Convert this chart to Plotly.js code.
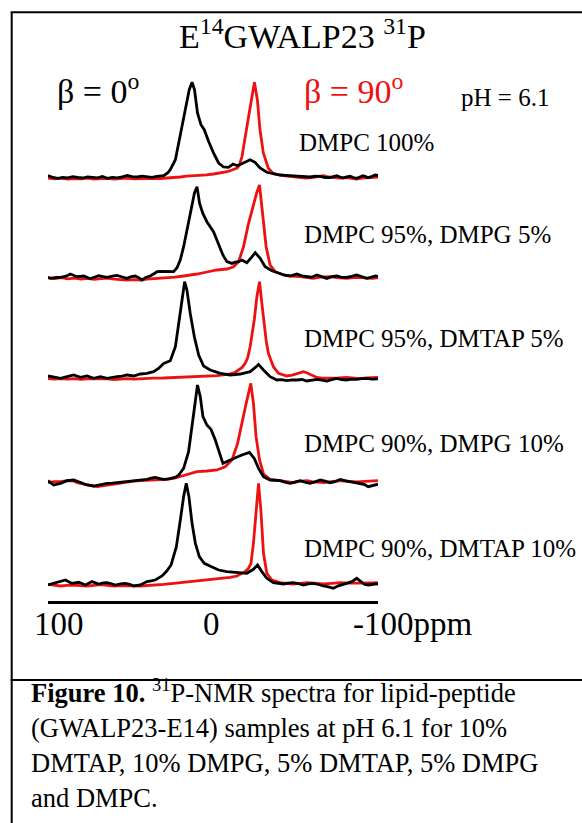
<!DOCTYPE html>
<html>
<head>
<meta charset="utf-8">
<script src="https://cdn.plot.ly/plotly-3.0.1.min.js"></script>
<style>
  html, body { margin: 0; padding: 0; background: #ffffff; }
  #chart { width: 582px; height: 823px; }
</style>
</head>
<body>
<div id="chart"></div>
<script>
// ---------------- DATA ----------------
// chemical shift axis ticks (ppm) and their labels
const ppmTicks = [100, 0, -100];
const ppmTickText = ['100', '0', '-100ppm'];

// sample names, top to bottom
const sampleLabels = ['DMPC 100%', 'DMPC 95%, DMPG 5%', 'DMPC 95%, DMTAP 5%', 'DMPC 90%, DMPG 10%', 'DMPC 90%, DMTAP 10%'];
const betaLabels = ['\u03b2 = 0<sup>o</sup>', '\u03b2 = 90<sup>o</sup>'];
const phLabel = 'pH = 6.1';
const titleText = 'E<sup>14</sup>GWALP23 <sup>31</sup>P';
const captionLines = [
  '<b>Figure 10.</b> <sup>31</sup>P-NMR spectra for lipid-peptide',
  '(GWALP23-E14) samples at pH 6.1 for 10%',
  'DMTAP, 10% DMPG, 5% DMTAP, 5% DMPG',
  'and DMPC.'
];

// spectra: [ppm, intensity] pairs (intensity in arbitrary units above baseline)
const dmpc100_beta0 = [[100,1.5],[97,-0.5],[94,-1.3],[91,-0.5],[88,-0.8],[85,0.3],[82,-0.5],[79,-1],[76,0.2],[73,0],[70,-0.8],[67,0.5],[64,-1.3],[61,-0.3],[58,-0.8],[55,0.2],[52,1.5],[49,0.3],[46,0],[43,0.8],[40,0.2],[37,-0.3],[34,0.6],[31,1],[29.9,1.3],[27.5,4],[25.9,7.3],[22.8,17.3],[19.8,40.7],[16.8,67.3],[14.4,87.3],[12.7,94.7],[11.2,87.3],[9.4,64],[7.3,52.3],[5.3,47.3],[2.7,35.7],[-0.3,24],[-3.4,14],[-6.4,10],[-9.4,9.7],[-12.1,13],[-14.9,11.3],[-18.5,14],[-22.5,17.3],[-25.5,14.7],[-28.5,9],[-32.6,4.7],[-36.6,3.3],[-40.7,2],[-44,1.6],[-46.7,1.3],[-50,0.5],[-52.8,0.7],[-56,-0.3],[-58.8,0],[-62,0.8],[-64.9,0.7],[-68,-0.5],[-70.9,-0.7],[-73,0.4],[-75,1.3],[-77,0],[-78.8,-1],[-81,0.2],[-83.1,0.7],[-85,-0.5],[-87.1,-1.3],[-89,0],[-90.9,1.3],[-92.5,0.5],[-94,-0.7],[-96,0.3],[-98.2,2],[-100,1.5]];
const dmpc100_beta90 = [[100,-1],[96,-1.8],[92,-1.2],[88,-2],[84,-1.5],[80,-1.8],[76,-1.2],[72,-2],[68,-1.6],[64,-1.3],[60,-2],[56,-1.5],[52,-1.2],[48,-1.8],[44,-1.5],[40,-1.6],[36,-1.3],[32,-1.5],[29.9,-1.3],[24,-0.5],[19.8,0],[16,0.8],[9.6,1.3],[4,2.2],[-0.3,3],[-5,4.2],[-8.6,5.3],[-11.5,7],[-14.6,9],[-16,12],[-17.6,20.7],[-20.6,50.7],[-23,74],[-25.1,94.7],[-26.9,77],[-28.5,47],[-30.5,24],[-33.5,8.7],[-36.6,3.3],[-42.6,1.3],[-48,0.3],[-52,-0.8],[-56,-1.2],[-60,-0.5],[-64,0.5],[-67,1.3],[-70,0],[-73,-0.5],[-77,-1],[-81,-0.6],[-84,-1.5],[-87,-2],[-90,-1.2],[-94,-0.8],[-97,-0.5],[-100,0]];

const dmpg5_beta0 = [[100,-0.5],[98.5,-1.7],[95,-0.8],[92.4,-0.7],[89,0.5],[86.4,2.7],[84,1],[82.3,0],[78.3,0.7],[76,-0.5],[74.3,-2],[72,-0.5],[69.3,1],[66.5,0],[64.2,-0.7],[61,0.5],[58.1,1.3],[55,-0.3],[52.1,-1.7],[49.5,0],[47.1,0.7],[45,-1],[43,-3.3],[40.5,-0.5],[38,0.7],[35.8,3],[33.9,5],[31,5.2],[28.9,5],[26,4.6],[23.9,5],[21.8,9],[19.8,17],[17.8,30],[15.8,47],[14.2,60],[12.7,73],[11.2,84],[9.7,90],[8.1,73],[6.1,63],[3.7,55],[-0.3,45],[-3.4,33],[-6,21.7],[-8.4,15],[-11.5,13.3],[-13.5,14.5],[-15.5,15],[-17.5,16.7],[-20.5,14],[-23.2,19],[-25.6,24],[-28.6,18.3],[-31.6,10],[-35.7,6],[-40.7,2.7],[-43.5,1.5],[-46.7,0.7],[-50.8,2.7],[-53.8,0.8],[-56.8,0],[-59.8,-0.5],[-62.9,1.7],[-66,0.2],[-69,-1.7],[-72,0],[-75,0.7],[-78,-0.6],[-81,-0.7],[-84,0.3],[-87.1,1.7],[-90,0.2],[-93.2,-1.7],[-96,-0.5],[-98.5,0.7],[-100,0.3]];
const dmpg5_beta90 = [[100,-1.2],[96,-1.8],[92,-1],[88,-2.2],[84,-1.5],[80,-2.5],[76,-1.7],[72,-2.7],[68,-2],[64,-1.5],[60,-2.5],[56,-3.3],[52,-3.5],[48,-3],[44,-3.3],[40,-2.5],[36,-2],[32,-1.7],[27.9,-1.7],[23,-0.5],[17.8,0.7],[13,1.7],[9.7,2.7],[3.7,4.7],[-2.4,6.7],[-8.4,7.7],[-12.4,10],[-15.5,15],[-18.5,30],[-21.5,53],[-24.5,73],[-26.5,84],[-28.2,91.7],[-30.2,63],[-32.2,30],[-34.6,11.7],[-37.7,5],[-42.7,1.7],[-47,0.5],[-52.8,0],[-56.8,-1],[-60.8,-1.7],[-65,-0.5],[-70.9,0],[-75,-1],[-81,-1.7],[-85,-0.8],[-89.1,-0.7],[-93,-1.5],[-97,-1.7],[-100,-1]];

const dmtap5_beta0 = [[100,1.7],[96.5,0.3],[92.4,-0.7],[88.4,1],[84.4,2.7],[80.3,0.3],[76.3,1.7],[72.3,-0.7],[68.2,1],[64.2,-0.7],[61,0.5],[58.1,1],[55,1.5],[52.1,2.7],[48.1,1.7],[44,3.7],[40,4.3],[36,6],[33,9.3],[29.9,14.3],[25.9,17],[22.8,31],[20.2,61],[18.4,84.3],[17.2,96],[15.8,87.7],[13.8,64.3],[11.3,41],[8.7,22.7],[5.7,11.7],[1.7,7.7],[-4.4,4.3],[-10.4,2.7],[-16.5,3.7],[-22.5,6],[-25.5,10],[-27.6,13.3],[-30.6,7.7],[-34.6,1],[-38.7,-2.3],[-41.5,-2],[-44.7,-3],[-48,-2.2],[-50.8,-2.3],[-54,-1.8],[-56.9,-3.3],[-60,-2.5],[-62.9,-1.7],[-66,-2.4],[-69,-3.3],[-72,-2],[-75,-0.7],[-78,-1.8],[-81,-2.3],[-84,-1.5],[-87.1,-1.7],[-90,-1],[-93.2,-0.7],[-96,-1.5],[-99.2,-1.3],[-100,-1.2]];
const dmtap5_beta90 = [[100,-1],[96,-1.3],[92,-0.8],[88,-1.5],[84,-1],[80,-1.7],[76,-1.2],[72,-1],[68,-1.5],[64,-1.2],[60,-1.8],[56,-1.3],[52,-1],[48,-1.5],[44,-1],[40,-0.8],[36,-0.5],[30,-0.3],[23.9,0],[16,0.5],[9.7,1],[3,1.5],[-2.4,2],[-6,2.8],[-10.4,3.7],[-13,5],[-15.5,7.7],[-17.5,10],[-19.5,14.3],[-21,20],[-22.5,31],[-23.8,44],[-25,57.7],[-26.6,81],[-28.2,96],[-29.6,74.3],[-31,51],[-32.3,36],[-33.6,24.3],[-36.6,11],[-39.7,4.3],[-44.7,1.7],[-48,2.5],[-50.8,3.7],[-52.5,5],[-54.8,6],[-56.8,5],[-58.8,3.7],[-62.9,0.3],[-66,-0.5],[-71,-0.7],[-76,-0.2],[-81,0.3],[-85,-0.5],[-89,-1],[-93,-0.3],[-97,0.2],[-100,0.3]];

const dmpg10_beta0 = [[100,1],[96.5,-3.3],[92.4,-1.7],[88.4,1],[84.4,1.7],[80.3,-1],[76.3,-3.3],[72.3,-4.3],[70,-3.5],[66,-2],[64.2,-1.7],[61,-1.5],[58.1,-1],[55,-0.5],[52.1,0],[49,1],[46,1.7],[42,2],[40,2.3],[37.5,3.5],[35,4.3],[32,3],[29.9,2.3],[27,2.8],[24.8,3.3],[22.5,4.5],[20.8,6.7],[17.8,13.3],[14.8,30],[12.7,55],[10.9,81.7],[9.4,96.7],[7.7,85],[6.1,65],[3.7,56.7],[1.2,52.3],[-1.4,41.7],[-4,28.3],[-6,18.3],[-9.4,21],[-13.5,24.3],[-17.5,26.7],[-22.1,29.3],[-25,23.3],[-27.6,13.3],[-30.6,5],[-34.6,1.7],[-40.7,1],[-43.5,-0.5],[-46.7,-1.7],[-49.5,-0.5],[-52.8,1],[-55.8,-0.5],[-58.8,-1.7],[-62,-0.2],[-64.9,1.7],[-68,0.5],[-70.9,-1],[-74,0],[-77,2.3],[-80,1],[-83.1,0],[-86,-1],[-89.1,-1.7],[-92,-3],[-94.1,-5],[-96.5,-4.2],[-98.2,-3.3],[-100,-2.5]];
const dmpg10_beta90 = [[100,-1],[96.5,0],[92.4,0],[88.4,1],[84.4,0.5],[82.3,-1],[78.3,-2.5],[76.3,-3.3],[72.3,-4.5],[70,-5],[66,-4],[64.2,-3.3],[60,-2.5],[58.1,-1.7],[55,-0.8],[52.1,0],[48,0.5],[44,1],[40,1.2],[36,1.7],[32,1.8],[28,2.3],[24,3.2],[19.8,5],[15.8,6.7],[9.7,10],[3.7,10.7],[-2.4,11.7],[-7.4,15],[-11.5,21.7],[-14.9,38.3],[-17.5,60],[-20.1,78.3],[-22.9,98.3],[-24.5,78.3],[-26.1,45],[-28.2,21.7],[-30.6,7.7],[-34.6,2.3],[-40.7,1],[-45,0],[-48.7,-1],[-52,0.3],[-56.9,1],[-60,0],[-63,-0.7],[-67,-1],[-72,0],[-77,1],[-81,0.3],[-87.1,-0.3],[-92,0.3],[-96,0.5],[-100,1]];

const dmtap10_beta0 = [[100,-1.7],[96.5,0],[92.4,1.7],[89.4,3.3],[87,1],[85.4,0],[81.4,1],[77.3,-1.7],[73.3,1.7],[69.3,-0.7],[66.5,0.5],[64.2,0.7],[61.5,-0.5],[59.2,-1.7],[56,-0.5],[53.2,0],[50.5,-1],[48.1,-2.7],[44,-1.7],[40,1.7],[37.5,2.5],[35,3.3],[30.9,7.3],[28.3,11.7],[25.4,18.3],[22.2,36.7],[19.8,63.3],[17.8,86.7],[16.2,100],[14.6,86.7],[12.7,60],[10.7,40],[8.3,26.7],[5.3,20],[1.2,16.7],[-3.4,13.3],[-8.4,11.7],[-14.5,10.7],[-20.5,10],[-24.5,14],[-27,18.3],[-29.6,11.7],[-32.6,5],[-36.6,0.7],[-39.5,-0.2],[-42.7,-0.7],[-45.5,0.2],[-48.7,0.7],[-51.8,-0.3],[-54.8,-1.7],[-57.8,-0.5],[-60.8,0],[-64,-1.2],[-66.9,-2.7],[-70,-3.5],[-72.9,-5],[-76,-2.5],[-79,-0.7],[-82,0.5],[-84.1,1.7],[-87.1,5],[-90.1,0.7],[-92,-1.2],[-94.1,-1.7],[-96,-1],[-98.2,-0.7],[-100,-0.5]];
const dmtap10_beta90 = [[100,-1],[96,-1.8],[92.4,-2.7],[88.4,-2],[84.4,-1.7],[80.3,-2.3],[76.3,-2.7],[72.2,-2],[68.2,-1.3],[64.2,-2],[60.2,-2.7],[56,-2.2],[52.1,-2],[48,-2.5],[44,-2.7],[40,-2],[36,-1.7],[30,-1],[23.9,0],[18,1],[13.8,1.7],[8.7,2.5],[3.7,3.3],[-1.4,4.2],[-6.4,5],[-10.4,6],[-14.5,7.3],[-17.5,9.5],[-19.5,11.7],[-21.5,15],[-23,20],[-24.5,40],[-26,73.3],[-27.6,100],[-29,73.3],[-30.6,30],[-32.6,10],[-35.7,3.3],[-40.7,0.7],[-44.7,0],[-48.7,-0.7],[-52.8,0],[-56.9,0.7],[-61,0.2],[-66.9,-0.7],[-72,0],[-77,0.7],[-82,0.2],[-87.1,0],[-92,0.3],[-96,0.5],[-98.2,0.7],[-100,0.7]];

// ---------------- LAYOUT / DRAWING ----------------
const W = 582, H = 823;
const M = { l: 48, r: 204, t: 70, b: 222 };
const PW = W - M.l - M.r;          // plot width in px
const PH = H - M.t - M.b;          // plot height in px
const plotBottom = H - M.b;        // px of y = 0
const serif = "'Liberation Serif', 'Times New Roman', Times, serif";
const black = '#000000';
const red = '#ee1111';

// baseline (px from top) of each stacked spectrum
const baselinePx = [177, 276.7, 377.7, 481.7, 583.3];
const labelBaselinePx = [151.7, 243.3, 348, 452.5, 558];
const labelLeftPx = [298.3, 303.3, 303.3, 303.3, 303.3];

const spectra = [
  [dmpc100_beta0, dmpc100_beta90],
  [dmpg5_beta0, dmpg5_beta90],
  [dmtap5_beta0, dmtap5_beta90],
  [dmpg10_beta0, dmpg10_beta90],
  [dmtap10_beta0, dmtap10_beta90]
];

const traces = [];
spectra.forEach((pair, i) => {
  const off = plotBottom - baselinePx[i];
  const [b0, b90] = pair;
  traces.push({
    type: 'scatter', mode: 'lines', x: b90.map(p => p[0]), y: b90.map(p => p[1] + off),
    line: { color: red, width: 2.8 }, hoverinfo: 'skip', showlegend: false
  });
  traces.push({
    type: 'scatter', mode: 'lines', x: b0.map(p => p[0]), y: b0.map(p => p[1] + off),
    line: { color: black, width: 2.8 }, hoverinfo: 'skip', showlegend: false
  });
});

// tick marks on the ppm axis
traces.push({
  type: 'scatter', mode: 'markers', x: ppmTicks, y: ppmTicks.map(() => -1.5),
  marker: { symbol: 'line-ns', size: 10, line: { width: 3.5, color: black } },
  cliponaxis: false, hoverinfo: 'skip', showlegend: false
});

const px2x = px => (px - M.l) / PW;
const py2y = py => (plotBottom - py) / PH;

function textAt(text, leftPx, baselinePxV, size, color, anchor) {
  return {
    xref: 'paper', yref: 'paper',
    x: px2x(leftPx), y: py2y(baselinePxV + 0.216 * size + 1),
    xanchor: anchor || 'left', yanchor: 'bottom',
    text: text, showarrow: false,
    font: { family: serif, size: size, color: color || black }
  };
}

const annotations = [];
annotations.push(textAt(titleText, 302, 49, 34, black, 'center'));
annotations.push(textAt(betaLabels[0], 55, 104, 34, black));
annotations.push(textAt(betaLabels[1], 301.5, 104, 34, red));
annotations.push(textAt(phLabel, 458.5, 107, 25, black));
sampleLabels.forEach((s, i) => annotations.push(textAt(s, labelLeftPx[i] - 1.5, labelBaselinePx[i], 25, black)));
annotations.push(textAt(ppmTickText[0], 32, 636, 33, black));
annotations.push(textAt(ppmTickText[1], 211.7, 636, 33, black, 'center'));
annotations.push(textAt(ppmTickText[2], 351, 636, 33, black));
const capBase = [703, 738, 773, 808];
captionLines.forEach((s, i) => annotations.push(textAt(s, 28.5, capBase[i], 26.5, black)));

const frame = { type: 'line', xref: 'paper', yref: 'paper', line: { color: black, width: 2 } };
const shapes = [
  Object.assign({}, frame, { x0: px2x(11.7), x1: px2x(11.7), y0: py2y(12.3), y1: py2y(830) }),
  Object.assign({}, frame, { x0: px2x(10.7), x1: px2x(600), y0: py2y(12.3), y1: py2y(12.3) }),
  Object.assign({}, frame, { x0: px2x(10.7), x1: px2x(600), y0: py2y(680), y1: py2y(680) })
];

const layout = {
  width: W, height: H,
  margin: M,
  paper_bgcolor: '#ffffff', plot_bgcolor: '#ffffff',
  font: { family: serif, color: black },
  showlegend: false,
  xaxis: {
    range: [100, -100], showline: true, linewidth: 3, linecolor: black,
    ticks: '', showticklabels: false, showgrid: false, zeroline: false, fixedrange: true
  },
  yaxis: { range: [0, PH], visible: false, showgrid: false, zeroline: false, fixedrange: true },
  annotations: annotations,
  shapes: shapes
};

Plotly.newPlot('chart', traces, layout, { staticPlot: true, displayModeBar: false });
</script>
</body>
</html>
